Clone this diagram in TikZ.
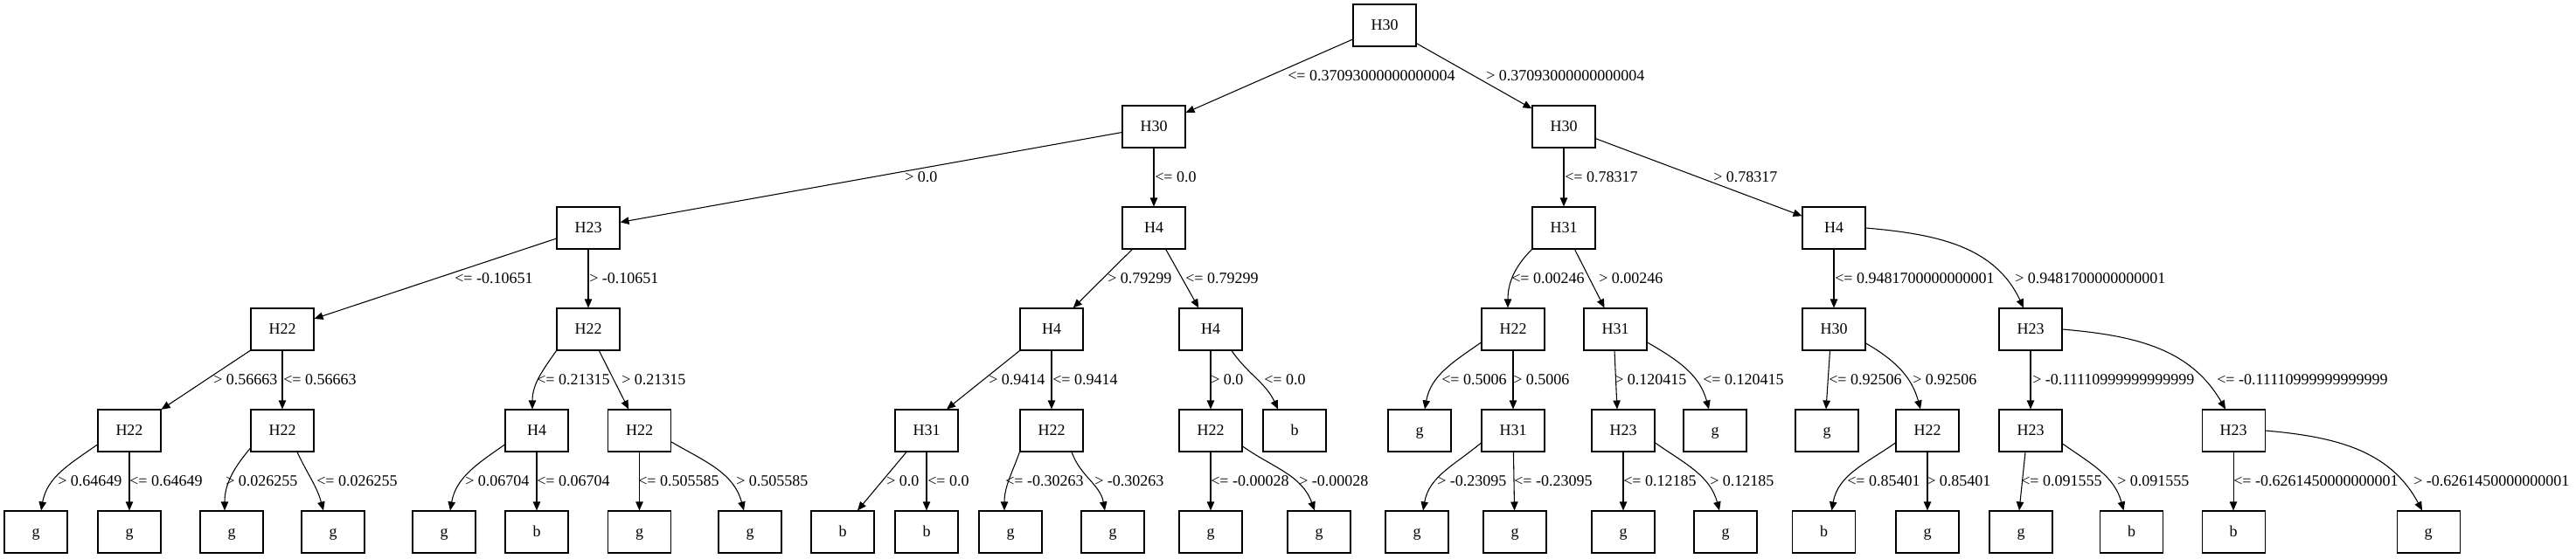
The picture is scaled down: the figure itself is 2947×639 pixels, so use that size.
\documentclass[tikz,border=0pt]{standalone}
\usepackage{fontspec}
\setmainfont{Liberation Serif}
\usetikzlibrary{arrows.meta}
\newcounter{lbc}
\newcommand\elab[3]{\stepcounter{lbc}\node[lbl] (lab\arabic{lbc}) at (#1,{-(#2+5)}) {#3};}
\begin{document}
\begin{tikzpicture}[x=0.75pt,y=0.75pt,
  box/.style={draw, line width=0.8pt, minimum width=54pt, minimum height=36pt, inner sep=0pt, text height=7.5pt, text depth=0pt, font=\fontsize{13.5pt}{16pt}\selectfont},
  edge/.style={line width=0.8pt, -{Triangle[length=7.5pt,width=6.3pt]}},
  lbl/.style={anchor=base west, inner sep=0pt, font=\fontsize{13.5pt}{16pt}\selectfont}]
\useasboundingbox (0,0) rectangle (2947,-639);
% level 0-2
\node[box] (n0) at (1584,-29) {H30};
\node[box] (n1) at (1320,-145) {H30};
\node[box] (n2) at (1789,-145) {H30};
\node[box] (n3) at (673,-261) {H23};
\node[box] (n4) at (1320,-261) {H4};
\node[box] (n5) at (1789,-261) {H31};
\node[box] (n6) at (2098,-261) {H4};
% level 3
\node[box] (n7) at (323,-377) {H22};
\node[box] (n8) at (673,-377) {H22};
\node[box] (n9) at (1203,-377) {H4};
\node[box] (n10) at (1385,-377) {H4};
\node[box] (n11) at (1731,-377) {H22};
\node[box] (n12) at (1848,-377) {H31};
\node[box] (n13) at (2098,-377) {H30};
\node[box] (n14) at (2323,-377) {H23};
% level 4
\node[box] (n15) at (148,-493) {H22};
\node[box] (n16) at (323,-493) {H22};
\node[box] (n17) at (614,-493) {H4};
\node[box] (n18) at (731.5,-493) {H22};
\node[box] (n19) at (1060,-493) {H31};
\node[box] (n20) at (1203,-493) {H22};
\node[box] (n21) at (1385,-493) {H22};
\node[box] (n22) at (1481,-493) {b};
\node[box] (n23) at (1624,-493) {g};
\node[box] (n24) at (1731,-493) {H31};
\node[box] (n25) at (1857,-493) {H23};
\node[box] (n26) at (1962,-493) {g};
\node[box] (n27) at (2090,-493) {g};
\node[box] (n28) at (2205,-493) {H22};
\node[box] (n29) at (2323,-493) {H23};
\node[box] (n30) at (2555,-493) {H23};
% level 5
\node[box] (l1) at (41,-609) {g};
\node[box] (l2) at (148,-609) {g};
\node[box] (l3) at (265,-609) {g};
\node[box] (l4) at (381,-609) {g};
\node[box] (l5) at (508,-609) {g};
\node[box] (l6) at (614,-609) {b};
\node[box] (l7) at (731.5,-609) {g};
\node[box] (l8) at (858,-609) {g};
\node[box] (l9) at (964,-609) {b};
\node[box] (l10) at (1060,-609) {b};
\node[box] (l11) at (1156,-609) {g};
\node[box] (l12) at (1273,-609) {g};
\node[box] (l13) at (1385,-609) {g};
\node[box] (l14) at (1509,-609) {g};
\node[box] (l15) at (1621,-609) {g};
\node[box] (l16) at (1733,-609) {g};
\node[box] (l17) at (1857,-609) {g};
\node[box] (l18) at (1974,-609) {g};
\node[box] (l19) at (2086.5,-609) {b};
\node[box] (l20) at (2205,-609) {g};
\node[box] (l21) at (2312,-609) {g};
\node[box] (l22) at (2438.5,-609) {b};
\node[box] (l23) at (2555,-609) {b};
\node[box] (l24) at (2778,-609) {g};
% edges
\draw[edge] (n0) -- (n1);
\draw[edge] (n0) -- (n2);
\draw[edge] (n1) -- (n3);
\draw[edge] (n1) -- (n4);
\draw[edge] (n2) -- (n5);
\draw[edge] (n2) -- (n6);
\draw[edge] (n3) -- (n7);
\draw[edge] (n3) -- (n8);
\draw[edge] (n4) -- (n9);
\draw[edge] (n4) -- (n10);
\draw[edge] (n5.south west) to[out=-135,in=90] ([shift={(-6,0)}]n11.north);
\draw[edge] (n5) -- (n12);
\draw[edge] (n6) -- (n13);
\draw[edge] (n6.east) to[out=-5,in=115] ([shift={(-8,0)}]n14.north);
\draw[edge] (n7) -- (n15);
\draw[edge] (n7) -- (n16);
\draw[edge] (n8.south west) to[out=-125,in=90] ([shift={(-5,0)}]n17.north);
\draw[edge] (n8) -- (n18);
\draw[edge] (n9.south west) -- ([shift={(23,0)}]n19.north);
\draw[edge] (n9) -- (n20);
\draw[edge] (n10) -- (n21);
\draw[edge] ([shift={(24,0)}]n10.south) to[out=-55,in=115] ([shift={(-19,0)}]n22.north);
\draw[edge] ([shift={(0,-15)}]n11.west) to[out=-145,in=80] ([shift={(6,0)}]n23.north);
\draw[edge] (n11) -- (n24);
\draw[edge] ([shift={(-1,0)}]n12.south) -- ([shift={(-7,0)}]n25.north);
\draw[edge] ([shift={(0,-15)}]n12.east) to[out=-30,in=105] ([shift={(-7,0)}]n26.north);
\draw[edge] ([shift={(-4.5,0)}]n13.south) -- ([shift={(-1,0)}]n27.north);
\draw[edge] ([shift={(0,-16)}]n13.east) to[out=-30,in=105] ([shift={(-8,0)}]n28.north);
\draw[edge] (n14) -- (n29);
\draw[edge] (n14.east) to[out=-5,in=120] ([shift={(-9,0)}]n30.north);
\draw[edge] ([shift={(0,-16)}]n15.west) to[out=-145,in=80] ([shift={(6,0)}]l1.north);
\draw[edge] (n15) -- (l2);
\draw[edge] ([shift={(0,-20)}]n16.west) to[out=-130,in=90] ([shift={(-8,0)}]l3.north);
\draw[edge] ([shift={(17,0)}]n16.south) to[out=-65,in=105] ([shift={(-11,0)}]l4.north);
\draw[edge] ([shift={(0,-16)}]n17.west) to[out=-145,in=80] ([shift={(7,0)}]l5.north);
\draw[edge] (n17) -- (l6);
\draw[edge] (n18) -- (l7);
\draw[edge] ([shift={(0,-13)}]n18.east) to[out=-30,in=105] ([shift={(-7,0)}]l8.north);
\draw[edge] ([shift={(-23,0)}]n19.south) -- ([shift={(17,0)}]l9.north);
\draw[edge] (n19) -- (l10);
\draw[edge] (n20.south west) to[out=-110,in=90] ([shift={(-7,0)}]l11.north);
\draw[edge] ([shift={(23,0)}]n20.south) to[out=-70,in=100] ([shift={(-9,0)}]l12.north);
\draw[edge] (n21) -- (l13);
\draw[edge] ([shift={(0,-18)}]n21.east) to[out=-35,in=110] ([shift={(-5,0)}]l14.north);
\draw[edge] ([shift={(0,-14)}]n24.west) to[out=-140,in=80] ([shift={(7,0)}]l15.north);
\draw[edge] (n24) -- (l16);
\draw[edge] (n25) -- (l17);
\draw[edge] ([shift={(0,-14)}]n25.east) to[out=-35,in=105] ([shift={(-7,0)}]l18.north);
\draw[edge] ([shift={(0,-14)}]n28.west) to[out=-145,in=80] ([shift={(9,0)}]l19.north);
\draw[edge] (n28) -- (l20);
\draw[edge] ([shift={(-6,0)}]n29.south) -- ([shift={(-2,0)}]l21.north);
\draw[edge] ([shift={(0,-15)}]n29.east) to[out=-35,in=105] ([shift={(-9,0)}]l22.north);
\draw[edge] (n30) -- (l23);
\draw[edge] (n30.east) to[out=-5,in=118] ([shift={(-7,0)}]l24.north);
% edge labels
\elab{1473}{87}{<= 0.37093000000000004}
\elab{1700}{87}{> 0.37093000000000004}
\elab{1035}{203}{> 0.0}
\elab{1321}{203}{<= 0.0}
\elab{1790}{203}{<= 0.78317}
\elab{1960}{203}{> 0.78317}
\elab{520}{319}{<= -0.10651}
\elab{674}{319}{> -0.10651}
\elab{1267}{319}{> 0.79299}
\elab{1356}{319}{<= 0.79299}
\elab{1729}{319}{<= 0.00246}
\elab{1829}{319}{> 0.00246}
\elab{2099}{319}{<= 0.9481700000000001}
\elab{2305}{319}{> 0.9481700000000001}
\elab{244}{435}{> 0.56663}
\elab{324}{435}{<= 0.56663}
\elab{614}{435}{<= 0.21315}
\elab{711}{435}{> 0.21315}
\elab{1131}{435}{> 0.9414}
\elab{1204}{435}{<= 0.9414}
\elab{1385}{435}{> 0.0}
\elab{1446}{435}{<= 0.0}
\elab{1649}{435}{<= 0.5006}
\elab{1731}{435}{> 0.5006}
\elab{1847}{435}{> 0.120415}
\elab{1948}{435}{<= 0.120415}
\elab{2092}{435}{<= 0.92506}
\elab{2188}{435}{> 0.92506}
\elab{2325}{435}{> -0.11110999999999999}
\elab{2536}{435}{<= -0.11110999999999999}
\elab{66}{551}{> 0.64649}
\elab{148}{551}{<= 0.64649}
\elab{258}{551}{> 0.026255}
\elab{362}{551}{<= 0.026255}
\elab{532}{551}{> 0.06704}
\elab{614}{551}{<= 0.06704}
\elab{730}{551}{<= 0.505585}
\elab{842}{551}{> 0.505585}
\elab{1014}{551}{> 0.0}
\elab{1061}{551}{<= 0.0}
\elab{1150}{551}{<= -0.30263}
\elab{1252}{551}{> -0.30263}
\elab{1385}{551}{<= -0.00028}
\elab{1486}{551}{> -0.00028}
\elab{1644}{551}{> -0.23095}
\elab{1732}{551}{<= -0.23095}
\elab{1857}{551}{<= 0.12185}
\elab{1956}{551}{> 0.12185}
\elab{2113}{551}{<= 0.85401}
\elab{2204}{551}{> 0.85401}
\elab{2312}{551}{<= 0.091555}
\elab{2422}{551}{> 0.091555}
\elab{2555}{551}{<= -0.6261450000000001}
\elab{2761}{551}{> -0.6261450000000001}
\end{tikzpicture}
\end{document}
